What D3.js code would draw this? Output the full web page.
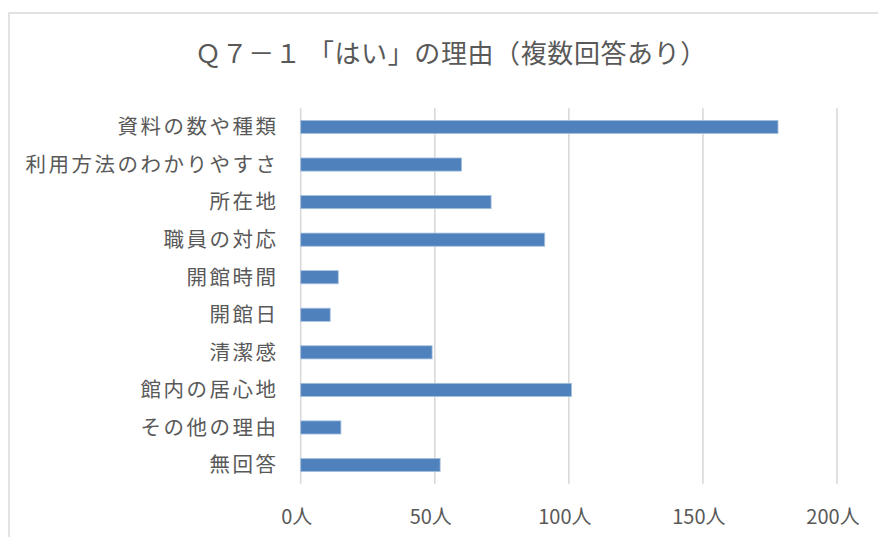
<!DOCTYPE html>
<html>
<head>
<meta charset="utf-8">
<script src="https://cdn.jsdelivr.net/npm/d3@7/dist/d3.min.js"></script>
<style>
  body { margin: 0; background: #fff; }
  text { font-family: "Noto Sans CJK JP", "Noto Sans", sans-serif; fill: #595959; }
</style>
</head>
<body>
<script>
// Q7-1 reasons chart
var categories = ["資料の数や種類", "利用方法のわかりやすさ", "所在地", "職員の対応", "開館時間",
                  "開館日", "清潔感", "館内の居心地", "その他の理由", "無回答"];
var counts = [178, 60, 71, 91, 14, 11, 49, 101, 15, 52];
var xTicks = [0, 50, 100, 150, 200];
var titleText = "Ｑ７－１ 「はい」の理由（複数回答あり）";

var width = 878, height = 537;
var plot = { left: 300.7, right: 837, top: 108.2, bottom: 483.8 };

var svg = d3.select("body").append("svg")
    .attr("width", width)
    .attr("height", height);

// chart frame (only top/left visible in the picture)
svg.append("rect")
    .attr("x", 9).attr("y", 13)
    .attr("width", 900).attr("height", 560)
    .attr("fill", "#fff")
    .attr("stroke", "#d9d9d9")
    .attr("stroke-width", 1.5);

svg.append("text")
    .attr("x", 451).attr("y", 63)
    .attr("text-anchor", "middle")
    .style("font-size", "26px")
    .style("letter-spacing", "0.6px")
    .text(titleText);

var x = d3.scaleLinear()
    .domain([0, 200])
    .range([plot.left, plot.right]);

var y = d3.scaleBand()
    .domain(categories)
    .range([plot.top, plot.bottom])
    .paddingInner(0.65)
    .paddingOuter(0.325);

// gridlines
svg.append("g")
  .selectAll("line")
  .data(xTicks)
  .enter()
  .append("line")
    .attr("x1", d => x(d)).attr("x2", d => x(d))
    .attr("y1", plot.top).attr("y2", plot.bottom)
    .attr("stroke", "#d9d9d9")
    .attr("stroke-width", 1.6);

// bars
svg.append("g")
  .selectAll("rect")
  .data(categories)
  .enter()
  .append("rect")
    .attr("x", x(0))
    .attr("y", d => y(d))
    .attr("width", (d, i) => x(counts[i]) - x(0))
    .attr("height", y.bandwidth())
    .attr("fill", "#4f81bd")
    .attr("stroke", "#a7c0de")
    .attr("stroke-width", 0.8);

// category labels
svg.append("g")
  .selectAll("text")
  .data(categories)
  .enter()
  .append("text")
    .attr("x", 278.5)
    .attr("y", d => y(d) + y.bandwidth() / 2)
    .attr("dy", "0.36em")
    .attr("text-anchor", "end")
    .style("font-size", "20.5px")
    .style("letter-spacing", "2.5px")
    .text(d => d);

// x tick labels
svg.append("g")
  .selectAll("text")
  .data(xTicks)
  .enter()
  .append("text")
    .attr("x", d => x(d) - 4)
    .attr("y", 524)
    .attr("text-anchor", "middle")
    .style("font-size", "20px")
    .text(d => d + "人");
</script>
</body>
</html>
